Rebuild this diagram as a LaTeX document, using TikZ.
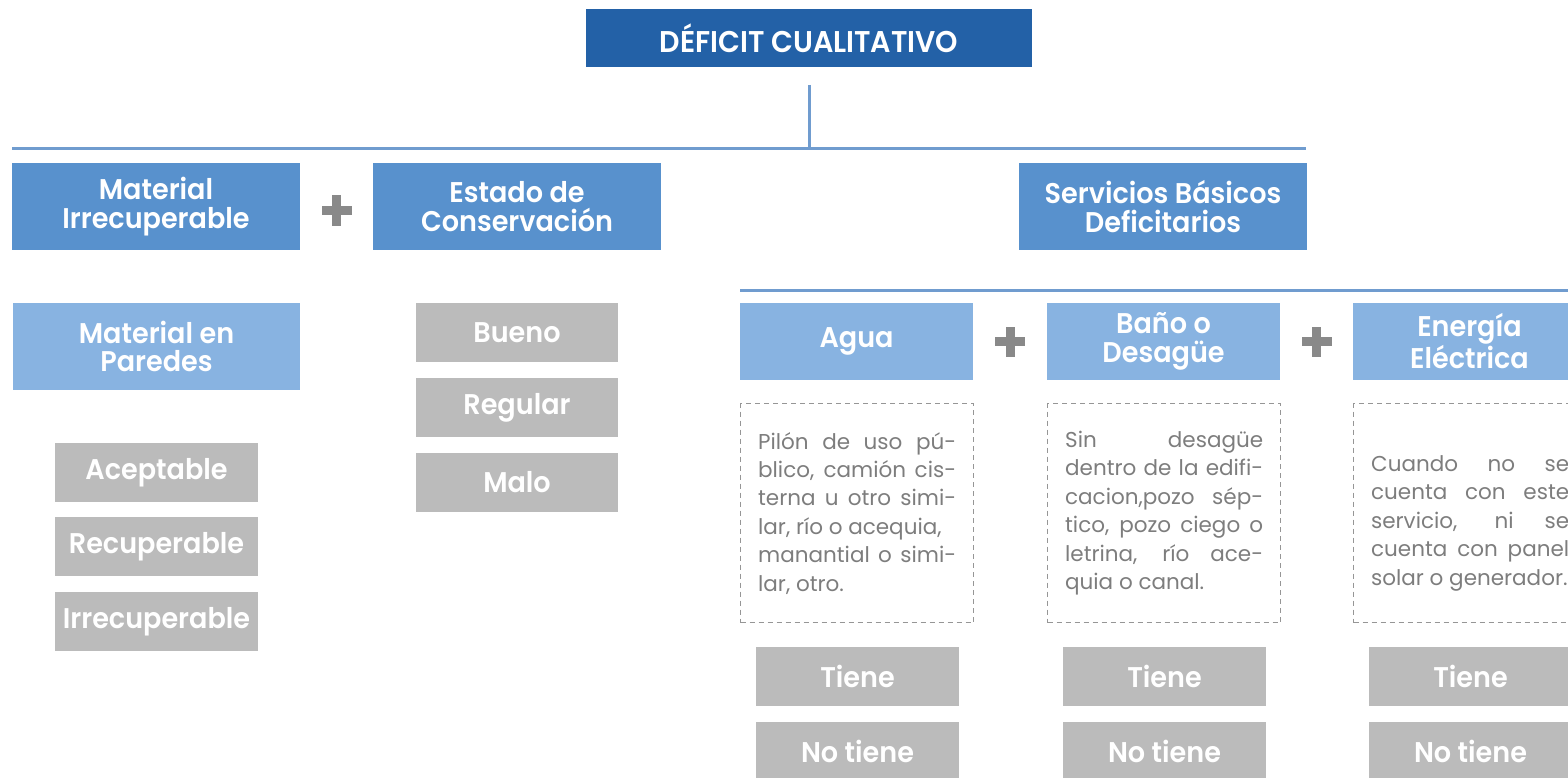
\documentclass[tikz,border=0pt]{standalone}
\usepackage{fontspec}
\setmainfont{Poppins}[BoldFont={Poppins SemiBold},BoldFeatures={FakeStretch=0.95}]
\usetikzlibrary{calc}

\definecolor{titblue}{RGB}{35,97,167}
\definecolor{midblue}{RGB}{88,145,205}
\definecolor{lightblue}{RGB}{136,179,225}
\definecolor{boxgray}{RGB}{187,187,187}
\definecolor{linblue}{RGB}{112,156,207}
\definecolor{plusgray}{RGB}{137,137,137}
\definecolor{txtgray}{RGB}{125,125,125}
\definecolor{dashgray}{RGB}{150,150,150}

\newcommand\jline[1]{\makebox[198pt][s]{#1}}

\tikzset{
  box/.style={anchor=north west,inner sep=0pt,outer sep=0pt,text=white,align=center,
    font=\bfseries\fontsize{28.5}{28.5}\selectfont},
  titlebox/.style={box,fill=titblue,minimum width=446pt,minimum height=58pt,
    font=\bfseries\fontsize{30}{30}\selectfont},
  catbox/.style={box,fill=midblue,minimum width=288pt,minimum height=87pt},
  subbox/.style={box,fill=lightblue,minimum width=233pt,minimum height=77pt},
  optbox/.style={box,fill=boxgray,minimum width=203pt,minimum height=59pt},
  descbox/.style={anchor=north west,draw=dashgray,line width=1.3pt,dash pattern=on 5pt off 4pt,
    minimum width=233pt,minimum height=219pt,inner sep=0pt,text=txtgray,align=left,
    font=\fontsize{21.5}{28.4}\selectfont},
  bar/.style={draw=linblue,line width=3pt},
  plus/.pic={
    \fill[plusgray] (-15,-4.5) rectangle (15,4.5);
    \fill[plusgray] (-4.5,-15) rectangle (4.5,15);
  }
}

\begin{document}
\begin{tikzpicture}[x=1pt,y=-1pt]
\clip (0,0) rectangle (1568,778);

\node[titlebox] (deficit) at (586,9) {DÉFICIT CUALITATIVO};

% primer nivel
\coordinate (barL) at (12,149);
\coordinate (barR) at (1306,149);
\draw[bar] (barL) -- (barR);
\draw[bar] ([yshift=-18pt]deficit.south) -- (deficit.south |- barL);

\node[catbox] (matirr) at (12,163) {Material\\Irrecuperable};
\node[catbox] (estado) at (373,163) {Estado de\\Conservación};
\node[catbox] (servicios) at (1019,163) {Servicios Básicos\\Deficitarios};
\pic at ($(matirr.east)!.5!(estado.west)+(0,4)$) {plus};

% material y estado
\node[subbox,minimum width=287pt,minimum height=87pt] (paredes) at (13,303) {Material en\\Paredes};
\node[optbox] (acept) at (55,443) {Aceptable};
\node[optbox] (recup) at (55,517) {Recuperable};
\node[optbox] (irrec) at (55,592) {Irrecuperable};

\node[optbox,minimum width=202pt] (bueno) at (416,303) {Bueno};
\node[optbox,minimum width=202pt] (regular) at (416,378) {Regular};
\node[optbox,minimum width=202pt] (malo) at (416,453) {Malo};

% servicios basicos
\coordinate (bar2L) at (740,290);
\coordinate (bar2R) at (1600,290);
\draw[bar] (bar2L) -- (bar2R);

\node[subbox] (agua) at (740,303) {Agua};
\node[subbox] (bano) at (1047,303) {Baño o\\Desagüe};
\node[subbox] (energia) at (1353,303) {Energía\\Eléctrica};
\pic at ($(agua.east)!.5!(bano.west)$) {plus};
\pic at ($(bano.east)!.5!(energia.west)$) {plus};

\node[descbox] (txtagua) at (740,403) {\jline{Pilón de uso pú-}\\
  \jline{blico, camión cis-}\\
  \jline{terna u otro simi-}\\
  lar, río o acequia,\\
  \jline{manantial o simi-}\\
  lar, otro.};
\node[descbox] (txtbano) at (1047,403) {\jline{Sin desagüe}\\
  \jline{dentro de la edifi-}\\
  \jline{cacion,pozo sép-}\\
  \jline{tico, pozo ciego o}\\
  \jline{letrina, río ace-}\\
  quia o canal.};
\node[descbox] (txtenergia) at (1353,403) {\rule{0pt}{36pt}\jline{Cuando no se}\\
  \jline{cuenta con este}\\
  \jline{servicio, ni se}\\
  \jline{cuenta con panel}\\
  solar o generador.};

\node[optbox] (tieneA) at (756,647) {Tiene};
\node[optbox] (notieneA) at (756,722) {No tiene};
\node[optbox] (tieneB) at (1063,647) {Tiene};
\node[optbox] (notieneB) at (1063,722) {No tiene};
\node[optbox] (tieneC) at (1369,647) {Tiene};
\node[optbox] (notieneC) at (1369,722) {No tiene};
\end{tikzpicture}
\end{document}
